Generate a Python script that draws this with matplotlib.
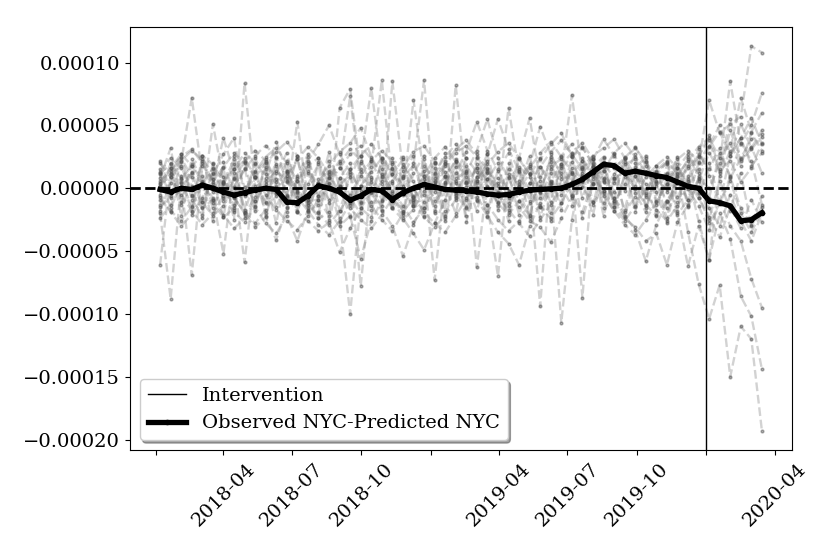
import matplotlib
matplotlib.use("Agg")
import matplotlib.pyplot as plt
import numpy as np
import pandas as pd

plt.rcParams['font.family'] = ['DejaVu Serif']
plt.rcParams['font.size'] = 14

# biweekly observations, values in units of 1e-5
dates = pd.date_range('2018-01-07', periods=58, freq='14D')
intervention = pd.Timestamp('2020-01-01')

observed_minus_predicted = [
    -0.1, -0.3, 0.0, -0.1, 0.25, 0.0, -0.3, -0.55, -0.35, -0.15,
    0.0, -0.1, -1.1, -1.15, -0.6, 0.2, 0.0, -0.3, -0.95, -0.6,
    -0.1, -0.2, -0.9, -0.35, 0.0, 0.3, 0.1, -0.1, -0.15, -0.2,
    -0.3, -0.45, -0.55, -0.5, -0.3, -0.15, -0.1, -0.05, 0.0, 0.3,
    0.7, 1.3, 1.9, 1.8, 1.2, 1.35, 1.2, 1.0, 0.85, 0.5,
    0.15, 0.0, -1.0, -1.15, -1.4, -2.6, -2.5, -1.95]

placebo_01 = [1.5, -0.8, 2.1, 7.2, 1.0, -1.6, 0.4, 2.3, -2.0, 0.9,
              -1.2, 1.8, -0.5, 2.6, -1.9, 0.7, 1.3, -2.4, -10.0, -1.1,
              2.2, 0.3, -1.5, 1.9, 0.6, -2.2, 1.1, 2.8, -0.7, 0.5,
              -1.8, 1.4, 0.2, -2.6, 1.7, 0.9, -0.4, 2.5, 1.2, 7.4,
              1.0, -1.3, 2.0, 0.8, -1.7, 1.5, 0.3, -2.1, 1.9, 0.6,
              -0.9, 2.0, 7.0, 4.4, 5.1, 5.7, 11.3, 10.8]
placebo_02 = [-2.0, -8.8, 0.5, -1.4, 2.2, -0.3, 1.6, -2.5, 8.4, 0.2,
              -1.1, 2.4, 0.8, -1.9, 1.2, -0.6, 2.9, 0.1, -2.3, 1.5,
              -0.4, 2.1, -1.6, 0.9, 1.8, 8.6, -1.0, 0.4, 2.3, -2.7,
              0.6, 1.3, -1.4, 2.0, -0.2, -2.4, 1.7, 0.5, -1.2, 2.6,
              -0.8, 1.9, -2.2, 0.7, 1.4, -1.5, 2.2, -0.3, -2.8, 1.1,
              -3.5, -7.6, -10.4, -7.7, -15.0, -11.0, -12.0, -19.3]
placebo_03 = [-6.1, 1.2, 2.7, -0.9, -2.1, 1.5, 0.3, 1.9, -1.7, 2.4,
              0.6, -2.8, 1.4, -0.2, 2.5, -1.3, 0.9, 2.2, -0.8, -2.0,
              1.7, 8.6, 0.4, -1.9, 2.0, 0.1, 1.6, -2.4, 0.8, 1.3,
              -1.0, 2.7, -0.6, 1.1, -2.1, 0.4, -9.4, 1.8, 2.3, -0.5,
              -1.9, 0.7, 2.4, -1.2, 0.3, 2.0, -1.6, 1.2, -0.1, 2.5,
              -1.4, 0.8, 0.0, 2.0, 8.5, 3.5, 5.0, 7.6]
placebo_04 = [0.8, 3.2, -1.3, 1.9, 0.5, -2.6, 2.1, -0.4, 1.6, -1.8,
              2.3, 0.2, -1.5, 1.0, 2.7, -0.9, -2.2, 6.4, 7.9, 1.3,
              -1.7, 0.6, 2.4, -0.3, -1.4, 1.8, 0.5, -2.6, 2.2, 0.9,
              -0.7, -1.9, 1.5, 2.8, -0.1, 1.2, -2.3, 0.4, -10.7, -2.5,
              1.6, 2.3, -0.6, -1.8, 1.1, 0.2, 2.6, -1.3, 0.7, -2.0,
              -6.2, -3.0, -5.7, -2.0, -4.0, -8.6, -10.2, -14.4]
placebo_05 = [1.1, -1.6, 0.4, -6.9, 1.8, 0.7, -2.3, 2.6, 0.1, -1.0,
              1.5, -0.6, 2.2, -1.8, 0.3, 1.9, -2.5, 0.8, 2.0, -1.2,
              0.5, -1.7, 8.5, 1.4, -0.8, 2.3, -2.0, 1.0, 0.6, -1.5,
              2.4, 0.2, -1.1, 6.4, 1.3, -2.2, 0.9, 2.1, -0.5, 1.6,
              -2.4, 0.3, 1.7, -1.0, 2.5, -0.4, -1.9, 1.4, 2.2, -0.7,
              1.0, -2.6, -5.7, 1.0, 3.0, 7.2, 4.5, 6.0]
placebo_06 = [-0.5, 2.0, -2.2, 1.3, -1.1, 5.1, 0.6, -1.7, 2.4, 0.9,
              -2.0, 1.2, 2.8, -0.4, -1.6, 2.1, 0.3, -2.7, 1.5, -7.8,
              0.7, -0.9, 1.9, 2.5, -1.3, 0.4, 2.0, -1.8, 8.2, 0.1,
              1.6, -2.3, 0.8, -0.2, 2.3, 1.1, -1.5, -2.0, 1.9, 0.5,
              2.2, -1.1, 0.6, 2.7, -2.3, 1.0, -0.5, 1.8, -1.6, 0.9,
              2.3, -0.8, 2.0, -1.0, -3.0, -4.2, -7.2, -9.5]
placebo_07 = [2.2, -0.2, 1.0, -1.9, 2.6, 0.3, 4.0, 1.2, -2.1, -0.7,
              1.7, -1.5, 0.5, 2.3, -0.9, -2.4, 1.4, 0.8, -1.3, 2.0,
              8.0, 1.5, -0.6, -2.1, 1.2, 2.6, -1.4, 0.3, -2.0, 1.8,
              0.4, 2.2, -1.7, 0.9, 1.5, -1.0, 2.4, -2.6, 0.7, 1.1,
              -8.7, 1.7, -1.2, 0.4, 2.1, -1.9, 1.3, 0.6, -2.4, 1.6,
              0.2, 2.7, 1.5, 3.2, 0.8, 2.4, 3.9, 4.3]
placebo_08 = [-1.3, 0.9, 1.8, -0.6, -2.4, 2.0, -1.0, 0.7, -5.9, 1.4,
              2.1, -0.3, -1.9, 0.6, 1.8, 2.4, -1.2, 0.2, 1.1, -1.6,
              -2.3, 0.9, 1.6, -0.5, 7.0, 1.0, -1.8, 2.2, 0.4, -0.9,
              1.9, -1.3, -7.0, 1.5, 0.1, 2.6, -0.8, 1.2, -1.7, 2.1,
              0.5, -2.1, 1.4, -0.3, 1.9, 2.3, -1.4, 0.5, 1.2, -1.8,
              2.5, 1.0, -2.5, 0.6, -1.8, 1.2, -3.0, -1.5]
placebo_09 = [0.3, 1.6, -1.1, 2.3, 0.6, -0.8, -5.2, 1.5, 2.2, -1.4,
              0.8, 1.9, -0.7, 5.3, -1.1, 0.4, 2.2, -1.8, 0.9, 2.6,
              -0.2, -1.4, 1.1, 2.3, -0.9, 1.4, -7.3, 0.5, 1.7, -2.2,
              0.9, 1.6, -0.4, -1.9, 2.4, 5.6, 0.6, -1.1, 1.8, -0.6,
              1.2, 2.5, -1.6, 0.8, -0.2, 1.7, 2.4, -1.0, 0.3, 1.9,
              -1.5, 0.6, 2.8, 1.4, 2.2, 0.5, 1.6, 3.6]
placebo_10 = [-1.8, 0.4, 2.4, 0.9, -1.5, 1.1, 2.7, 4.0, -0.6, 1.9,
              -2.2, 0.5, 1.3, -1.0, 2.0, -1.9, 0.8, 1.6, 7.3, 0.2,
              -1.1, 2.3, -0.4, 1.0, 2.6, -1.6, 0.3, 1.8, -0.8, 2.4,
              -6.3, 0.7, 2.0, -1.2, 0.6, 1.9, -0.3, 2.3, 0.1, -1.4,
              1.0, 0.4, 2.1, -1.5, 0.9, 2.7, -0.7, 1.3, 2.0, -1.1,
              0.7, 3.1, 1.0, -1.2, 2.6, 4.0, 1.8, 2.8]
placebo_11 = [1.2, 1.9, 0.8, -0.5, -1.6, -0.9, 0.4, 1.5, 2.8, 2.0,
              1.1, 3.7, 1.4, -0.3, -1.2, -2.4, -1.9, -3.0, -2.2, -5.6,
              -2.6, -1.0, 0.6, 1.7, 2.9, 3.4, 2.1, 0.9, -0.4, 1.2,
              3.0, 5.5, 2.4, 0.8, -1.0, -2.1, -1.4, 0.3, 1.6, 2.5,
              3.2, 2.0, 0.7, -0.8, -2.2, -3.3, -5.8, -2.9, -1.1, 0.5,
              1.8, 2.6, 3.8, 1.2, 4.6, 2.2, 3.1, 4.1]
placebo_12 = [-0.9, -1.8, -2.6, -1.5, 0.3, 1.6, 0.9, -0.7, -2.0, -3.1,
              -2.3, -4.1, -1.6, 0.8, 2.2, 3.5, 5.0, 2.7, 1.3, -0.2,
              -1.4, -2.5, -3.4, -2.0, -0.6, 1.0, 2.4, 3.3, 2.1, 0.5,
              -0.9, -2.2, -3.5, -4.4, -6.1, -3.0, -1.2, 0.6, 1.9, 2.8,
              3.6, 2.3, 0.8, -1.0, -2.4, -3.1, -4.2, -3.6, -6.1, -2.7,
              -1.3, -0.4, -2.8, -1.2, 0.6, -2.0, -3.5, -1.8]
placebo_13 = [0.6, 1.4, 2.5, 3.1, 2.0, 0.7, -0.8, -1.9, -2.7, -1.5,
              -2.8, -3.6, -2.2, -4.2, -1.7, 0.4, 1.8, 2.9, 3.6, 4.8,
              2.5, 1.0, -0.6, -1.8, -0.9, 0.7, 2.0, 1.3, -0.5, -1.6,
              0.9, 2.7, 5.5, 3.1, 1.4, -0.2, -1.5, -2.4, -1.2, 0.5,
              1.7, 2.6, 3.2, 3.9, 2.4, 1.0, -0.4, -1.7, -2.6, -1.4,
              0.2, 1.5, -0.8, 2.8, 1.0, 3.6, 2.2, -1.3]
placebo_14 = [2.0, 0.9, -0.5, -1.8, -2.9, -2.0, -0.6, 0.8, 2.1, 3.0,
              2.2, 0.7, -0.6, -1.9, -2.6, -3.4, -2.7, -5.1, -3.2, -1.6,
              -0.3, -1.8, -3.0, -5.4, -2.9, -1.1, 0.6, 1.9, 2.8, 3.4,
              2.5, 1.2, -0.3, -1.4, 0.2, 1.8, 4.9, 2.7, 1.0, -0.6,
              0.9, 2.3, 3.9, 2.6, 1.4, -0.1, -1.3, -2.2, -1.0, 0.4,
              1.6, 2.5, 4.2, 1.5, 5.5, 2.3, 3.3, 1.2]
placebo_15 = [-1.5, -0.6, 0.7, 1.8, 2.6, 1.9, 0.5, -0.8, -1.9, -2.8,
              -1.7, -0.4, 1.0, 2.3, 3.3, 2.4, 1.1, -0.3, -1.6, -2.5,
              -3.2, -2.1, -0.8, -2.4, -3.6, -4.9, -2.8, -0.9, 1.2, 2.9,
              5.3, 3.0, 1.4, -0.2, -1.5, -2.6, -3.1, -4.3, -2.4, -0.8,
              0.6, 1.7, 2.5, 1.6, 2.4, 3.3, 1.8, 0.4, -1.0, -2.1,
              -0.9, 0.7, -1.6, -3.0, -0.5, -2.6, -4.2, -2.0]
placebo_16 = [0.4, 1.6, 2.7, 1.8, 0.3, -1.2, -2.3, -1.6, -0.2, 1.3,
              2.5, 3.2, 2.0, 0.6, -0.9, -2.0, -2.9, -1.8, -0.5, 1.0,
              2.2, 3.0, 2.1, 0.8, -0.7, -1.9, -2.8, -3.5, -2.2, -0.8,
              0.6, 1.9, 2.9, 3.6, 2.4, 1.1, 2.3, 3.5, 4.4, 2.6,
              3.3, 1.8, 0.5, -0.8, -1.9, -0.7, 0.9, 1.8, 2.5, 1.6,
              2.7, 1.2, 3.3, 4.5, 2.6, 5.1, 3.2, 4.6]
placebo_17 = [-0.7, -1.9, -3.0, -2.1, -0.8, 0.5, 1.7, 2.8, 2.0, 0.9,
              -0.5, -1.7, -2.6, -3.3, -2.2, -0.9, 0.4, 1.6, 2.7, 3.4,
              2.3, 1.1, -0.2, -1.4, -2.7, -1.6, -0.3, 1.0, 2.2, 1.4,
              0.1, -1.3, -2.5, -3.4, -2.6, -1.2, 0.2, 1.5, 2.6, 3.5,
              2.4, 1.0, -0.4, -1.8, -2.9, -3.7, -2.5, -1.1, 0.3, 1.6,
              0.6, -0.8, -2.3, -3.9, -1.5, -3.2, -0.9, -2.7]
placebo_18 = [1.3, 2.4, 1.6, 0.2, -1.1, -2.2, -1.4, 0.1, 1.5, 2.6,
              3.4, 2.5, 1.2, -0.1, -1.3, -0.6, 0.8, 2.0, 3.1, 2.2,
              0.9, -0.4, -1.6, -2.5, -1.7, -0.2, 1.2, 2.5, 3.5, 2.4,
              1.3, 0.1, -1.2, -2.1, -1.0, 0.4, 1.7, 2.9, 3.8, 2.7,
              1.5, 0.3, 1.4, 2.8, 3.6, 2.5, 1.3, 0.2, 1.1, 2.3,
              3.0, 2.1, 3.4, 5.0, 2.8, 4.0, 5.6, 3.5]
placebo_19 = [-2.4, -1.3, 0.1, 1.2, 0.4, -0.9, -2.1, -3.2, -2.4, -1.0,
              0.3, 1.4, 0.6, -0.7, -1.8, -2.9, -3.7, -2.6, -1.2, 0.2,
              1.3, 2.4, 1.5, 0.2, -1.1, -2.3, -3.1, -2.2, -0.9, 0.4,
              1.6, 0.7, -0.6, -1.7, -2.8, -3.8, -2.5, -1.3, 0.1, 1.2,
              2.2, 1.1, -0.2, -1.5, -2.6, -1.4, -0.1, 1.0, 2.1, 1.2,
              -0.1, -1.4, -3.3, -1.2, 0.9, -1.6, -2.9, -0.6]
placebo_20 = [0.2, 1.1, 2.2, 3.0, 2.3, 1.2, 0.0, -1.3, -0.4, 0.9,
              2.0, 2.9, 3.7, 2.6, 1.4, 0.3, -0.9, 0.2, 1.5, 2.6,
              3.5, 2.4, 1.1, -0.2, -1.4, -0.5, 0.8, 2.0, 3.1, 3.8,
              2.7, 1.5, 0.4, -0.8, 0.3, 1.6, 2.8, 3.7, 2.5, 1.3,
              0.1, -1.1, -0.2, 1.1, 2.3, 3.2, 2.1, 0.9, -0.3, 1.0,
              2.2, 3.3, 4.0, 2.4, 3.6, 1.8, 4.4, 3.0]

placebos = [placebo_01, placebo_02, placebo_03, placebo_04, placebo_05,
            placebo_06, placebo_07, placebo_08, placebo_09, placebo_10,
            placebo_11, placebo_12, placebo_13, placebo_14, placebo_15,
            placebo_16, placebo_17, placebo_18, placebo_19, placebo_20]

tick_dates = pd.to_datetime(['2018-01-01', '2018-04-01', '2018-07-01', '2018-10-01',
                             '2019-01-01', '2019-04-01', '2019-07-01', '2019-10-01',
                             '2020-01-01', '2020-04-01'])
tick_labels = ['', '2018-04', '2018-07', '2018-10',
               '', '2019-04', '2019-07', '2019-10',
               '', '2020-04']

scale = 1e-5

fig = plt.figure(figsize=(8.3, 5.54), dpi=100)
ax = fig.add_axes([130/830, 1 - 450/554, (792 - 130)/830, (450 - 27)/554])

for p in placebos:
    ax.plot(dates, np.array(p) * scale, ls='--', color=(0.5, 0.5, 0.5, 0.35),
            lw=1.7, marker='.', ms=4,
            mfc=(0.3, 0.3, 0.3, 0.45), mec=(0.3, 0.3, 0.3, 0.45))

ax.axhline(0, ls='--', color='black', lw=2)
ax.axvline(intervention, color='black', lw=1, label='Intervention')
ax.plot(dates, np.array(observed_minus_predicted) * scale, color='black',
        lw=3.8, marker='.', label='Observed NYC-Predicted NYC')

ax.set_xticks(tick_dates)
ax.set_xticklabels(tick_labels, rotation=45)

ax.legend(loc='lower left', shadow=True, fancybox=True)

fig.savefig('out.png', dpi=100)
